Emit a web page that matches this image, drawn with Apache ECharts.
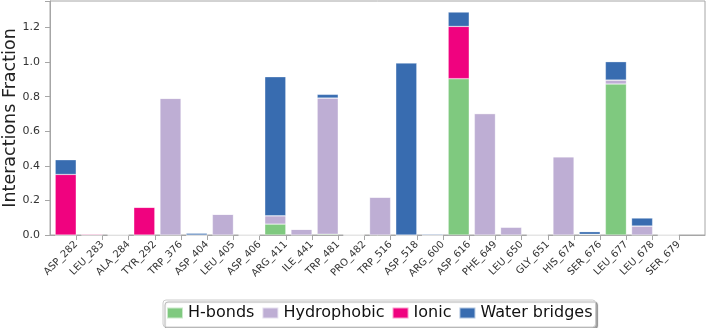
<!DOCTYPE html>
<html>
<head>
<meta charset="utf-8">
<script src="https://cdn.jsdelivr.net/npm/echarts@6/dist/echarts.min.js"></script>
<style>
html, body { margin: 0; padding: 0; background: #fff; }
#main { width: 708px; height: 328px; }
</style>
</head>
<body>
<div id="main"></div>
<script>
// residues along the x axis
var residues = ['ASP_282', 'LEU_283', 'ALA_284', 'TYR_292', 'TRP_376', 'ASP_404', 'LEU_405', 'ASP_406',
    'ARG_411', 'ILE_441', 'TRP_481', 'PRO_482', 'TRP_516', 'ASP_518', 'ARG_600', 'ASP_616',
    'PHE_649', 'LEU_650', 'GLY_651', 'HIS_674', 'SER_676', 'LEU_677', 'LEU_678', 'SER_679'];

var hbonds      = [0, 0, 0, 0, 0, 0, 0, 0, 0.063, 0, 0.005, 0, 0, 0, 0, 0.904, 0, 0, 0, 0, 0.004, 0.873, 0, 0];
var hydrophobic = [0, 0, 0, 0, 0.79, 0, 0.12, 0, 0.048, 0.033, 0.787, 0, 0.219, 0, 0, 0, 0.702, 0.046, 0, 0.452, 0, 0.023, 0.052, 0];
var ionic       = [0.35, 0.005, 0, 0.16, 0, 0, 0, 0, 0, 0, 0, 0, 0, 0, 0, 0.302, 0, 0, 0, 0, 0, 0, 0, 0];
var water       = [0.085, 0, 0.003, 0, 0, 0.01, 0, 0, 0.804, 0, 0.021, 0, 0, 0.994, 0.005, 0.083, 0, 0, 0, 0, 0.015, 0.106, 0.046, 0];

var yTicks = [0, 0.2, 0.4, 0.6, 0.8, 1.0, 1.2];

// one empty slot each side, like the matplotlib margins
var cats = [''].concat(residues).concat(['']);
function pad(arr) {
    return ['-'].concat(arr).concat(['-']);
}

var myChart = echarts.init(document.getElementById('main'));
var font = 'DejaVu Sans';

function barSeries(name, arr, color) {
    return {
        name: name,
        type: 'bar',
        stack: 'all',
        data: pad(arr),
        barWidth: 21,
        barGap: '0%',
        itemStyle: { color: color, borderColor: 'rgba(255,255,255,0.6)', borderWidth: 0.5 },
        emphasis: { disabled: true }
    };
}

var option = {
    animation: false,
    textStyle: { fontFamily: font },
    grid: {
        left: 50, right: 3, top: 1, bottom: 93,
        outerBoundsMode: 'none',
        containLabel: false,
        show: true,
        borderColor: '#a6a6a6',
        borderWidth: 1
    },
    legend: {
        data: ['H-bonds', 'Hydrophobic', 'Ionic', 'Water bridges'],
        left: 163, top: 300,
        icon: 'rect',
        itemWidth: 16, itemHeight: 11,
        itemGap: 7,
        padding: [5, 3, 6, 3],
        borderColor: '#cccccc',
        borderWidth: 1,
        borderRadius: 3,
        backgroundColor: '#fff',
        shadowColor: 'rgba(0,0,0,0.35)',
        shadowOffsetX: 2,
        shadowOffsetY: 2,
        shadowBlur: 1,
        textStyle: { fontFamily: font, fontSize: 16, color: '#111' }
    },
    xAxis: {
        type: 'category',
        data: cats,
        boundaryGap: false,
        axisLine: { lineStyle: { color: '#a6a6a6', width: 1 } },
        axisTick: {
            length: 5,
            interval: function (i) { return i > 0 && i < cats.length - 1; },
            lineStyle: { color: '#a6a6a6' }
        },
        axisLabel: {
            interval: 0,
            rotate: 45,
            margin: 8,
            fontSize: 10,
            color: '#333',
            fontFamily: font
        },
        splitLine: { show: false }
    },
    yAxis: {
        type: 'value',
        min: 0,
        max: 1.353,
        interval: 0.2,
        name: 'Interactions Fraction',
        nameLocation: 'middle',
        nameGap: 31,
        nameMoveOverlap: false,
        nameTextStyle: { fontSize: 17.5, color: '#222', fontFamily: font },
        axisLine: { show: true, lineStyle: { color: '#a6a6a6' } },
        axisTick: { show: true, length: 5, lineStyle: { color: '#a6a6a6' } },
        axisLabel: {
            fontSize: 11,
            color: '#333',
            margin: 10,
            fontFamily: font,
            formatter: function (v) {
                for (var i = 0; i < yTicks.length; i++) {
                    if (Math.abs(v - yTicks[i]) < 1e-6) return yTicks[i].toFixed(1);
                }
                return '';
            }
        },
        splitLine: { show: false }
    },
    series: [
        barSeries('H-bonds', hbonds, '#7fc97f'),
        barSeries('Hydrophobic', hydrophobic, '#beaed4'),
        barSeries('Ionic', ionic, '#f0027f'),
        barSeries('Water bridges', water, '#386cb0'),
        {
            // empty slot so the stacked bar sits left of its tick
            name: 'spacer',
            type: 'bar',
            data: pad(residues.map(function () { return '-'; })),
            barWidth: 21,
            barGap: '0%',
            silent: true
        }
    ]
};

myChart.setOption(option);
</script>
</body>
</html>
